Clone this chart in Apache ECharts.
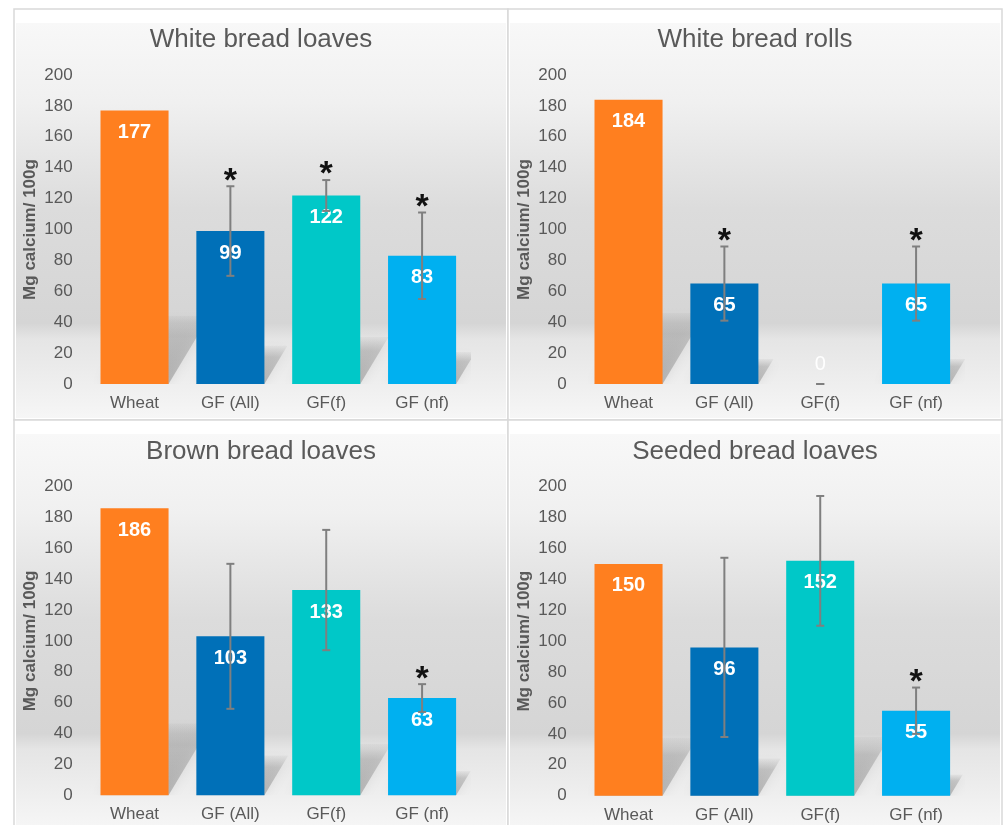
<!DOCTYPE html>
<html>
<head>
<meta charset="utf-8">
<title>Calcium content of bread</title>
<script src="https://cdn.jsdelivr.net/npm/echarts@6/dist/echarts.min.js"></script>
<style>
  html, body { margin: 0; padding: 0; background: #ffffff; }
  #chart { width: 1003px; height: 825px; }
</style>
</head>
<body>
<div id="chart"></div>
<script>
// ---- data ---------------------------------------------------------------
const categories = ['Wheat', 'GF (All)', 'GF(f)', 'GF (nf)'];
const panelTitles = ['White bread loaves', 'White bread rolls', 'Brown bread loaves', 'Seeded bread loaves'];
const yAxisName = 'Mg calcium/ 100g';
const yMin = 0, yMax = 200, yStep = 20;

// mean calcium (mg / 100 g)
const whiteLoavesMean  = [177, 99, 122, 83];
const whiteRollsMean   = [184, 65, 0, 65];
const brownLoavesMean  = [186, 103, 133, 63];
const seededLoavesMean = [150, 96, 152, 55];

// error-bar half widths (null = no error bar)
const whiteLoavesErr  = [null, 29, 10, 28];
const whiteRollsErr   = [null, 24, 0, 24];
const brownLoavesErr  = [null, 47, 39, 9];
const seededLoavesErr = [null, 58, 42, 15];

// significant difference from wheat (asterisk)
const whiteLoavesSig  = [false, true, true, true];
const whiteRollsSig   = [false, true, false, true];
const brownLoavesSig  = [false, false, false, true];
const seededLoavesSig = [false, false, false, true];

const panelMeans = [whiteLoavesMean, whiteRollsMean, brownLoavesMean, seededLoavesMean];
const panelErrs  = [whiteLoavesErr, whiteRollsErr, brownLoavesErr, seededLoavesErr];
const panelSigs  = [whiteLoavesSig, whiteRollsSig, brownLoavesSig, seededLoavesSig];

// ---- styling / layout ---------------------------------------------------
const barColors = ['#FF7F1F', '#0070B8', '#00C8C8', '#00B0F0'];
const FONT = "'Liberation Sans', Arial, Helvetica, sans-serif";
const TEXT = '#595959';
const BAR_FRACTION = 0.71;

const frames = [
  { x: 14,  y: 9,   w: 494, h: 411 },
  { x: 508, y: 9,   w: 494, h: 411 },
  { x: 14,  y: 420, w: 494, h: 410 },
  { x: 508, y: 420, w: 494, h: 410 }
];
const grids = [
  { left: 86.6,  top: 75,    width: 383.4, height: 309 },
  { left: 580.6, top: 75,    width: 383.4, height: 309 },
  { left: 86.6,  top: 486.7, width: 383.4, height: 308.5 },
  { left: 580.6, top: 486.7, width: 383.4, height: 309 }
];
const titleY = [39, 39, 451, 451];

const chart = echarts.init(document.getElementById('chart'), null, { renderer: 'canvas' });

// panel backgrounds, borders and titles
const graphics = [];
frames.forEach((f, i) => {
  graphics.push({
    type: 'rect', z: 0,
    shape: { x: f.x, y: f.y, width: f.w, height: f.h },
    style: { fill: '#ffffff', stroke: '#d9d9d9', lineWidth: 1.5 }
  });
  graphics.push({
    type: 'rect', z: 0, silent: true,
    shape: { x: f.x + 2, y: f.y + 14, width: f.w - 4, height: f.h - 16 },
    style: {
      fill: new echarts.graphic.LinearGradient(0, 0, 0, 1, [
        { offset: 0.00, color: '#f8f8f8' },
        { offset: 0.20, color: '#f0f0f0' },
        { offset: 0.47, color: '#dcdcdc' },
        { offset: 0.76, color: '#d5d5d5' },
        { offset: 0.80, color: '#e5e5e5' },
        { offset: 0.92, color: '#efefef' },
        { offset: 1.00, color: '#f6f6f6' }
      ])
    }
  });
  graphics.push({
    type: 'text', z: 10, silent: true,
    x: f.x + f.w / 2, y: titleY[i] + 1,
    style: {
      text: panelTitles[i], align: 'center', verticalAlign: 'middle',
      font: '26px ' + FONT, fill: TEXT
    }
  });
});

// soft floor shadow cast behind each bar
function renderShadow(params, api) {
  const k = api.value(0), v = api.value(1);
  if (!v) return null;
  const base = api.coord([k, 0]);
  const top = api.coord([k, v]);
  const w = api.size([1, 0])[0] * BAR_FRACTION;
  const h = base[1] - top[1];
  const x0 = base[0] - w / 2, x1 = base[0] + w / 2, y0 = base[1];
  const dx = h * 0.15, dy = h * 0.25;
  return {
    type: 'polygon',
    shape: { points: [[x0, y0], [x1, y0], [x1 + dx, y0 - dy], [x0 + dx, y0 - dy]] },
    style: {
      fill: new echarts.graphic.LinearGradient(0, 0, 0, 1, [
        { offset: 0, color: 'rgba(110,110,110,0.05)' },
        { offset: 0.3, color: 'rgba(110,110,110,0.28)' },
        { offset: 1, color: 'rgba(100,100,100,0.38)' }
      ]),
      shadowBlur: 12, shadowColor: 'rgba(100,100,100,0.35)'
    }
  };
}

// error bars with caps, plus asterisk for significance
function renderError(params, api) {
  const k = api.value(0), lo = api.value(1), hi = api.value(2), sig = api.value(3);
  const pLo = api.coord([k, lo]);
  const pHi = api.coord([k, hi]);
  const cap = 4;
  const line = { stroke: '#7f7f7f', lineWidth: 2 };
  const children = [
    { type: 'line', shape: { x1: pHi[0], y1: pHi[1], x2: pLo[0], y2: pLo[1] }, style: line },
    { type: 'line', shape: { x1: pHi[0] - cap, y1: pHi[1], x2: pHi[0] + cap, y2: pHi[1] }, style: line },
    { type: 'line', shape: { x1: pLo[0] - cap, y1: pLo[1], x2: pLo[0] + cap, y2: pLo[1] }, style: line }
  ];
  if (sig) {
    children.push({
      type: 'text', x: pHi[0], y: pHi[1] - 5,
      style: {
        text: '*', align: 'center', verticalAlign: 'middle',
        font: 'bold 34px ' + FONT, fill: '#111111'
      }
    });
  }
  return { type: 'group', children };
}

const xAxes = [], yAxes = [], series = [];
grids.forEach((g, i) => {
  xAxes.push({
    type: 'category', gridIndex: i, data: categories,
    axisLine: { show: false }, axisTick: { show: false },
    axisLabel: { color: TEXT, fontSize: 17, fontFamily: FONT, margin: 11 }
  });
  yAxes.push({
    type: 'value', gridIndex: i, min: yMin, max: yMax, interval: yStep,
    axisLine: { show: false }, axisTick: { show: false }, splitLine: { show: false },
    axisLabel: { color: TEXT, fontSize: 17, fontFamily: FONT, margin: 14 },
    name: yAxisName, nameLocation: 'middle', nameGap: 48, nameRotate: 90,
    nameTextStyle: { color: TEXT, fontSize: 17, fontWeight: 'bold', fontFamily: FONT }
  });

  const means = panelMeans[i], errs = panelErrs[i], sigs = panelSigs[i];

  series.push({
    type: 'custom', name: 'shadow' + i, xAxisIndex: i, yAxisIndex: i, z: 1,
    clip: true, silent: true,
    renderItem: renderShadow,
    data: means.map((v, k) => [k, v])
  });

  series.push({
    type: 'bar', name: panelTitles[i], xAxisIndex: i, yAxisIndex: i, z: 2,
    barWidth: (BAR_FRACTION * 100) + '%',
    data: means.map((v, k) => {
      const item = { value: v, itemStyle: { color: barColors[k] } };
      if (v === 0) {
        item.label = { position: 'top', distance: 10, fontWeight: 'normal', color: 'rgba(255,255,255,0.95)' };
      }
      return item;
    }),
    label: {
      show: true, position: 'insideTop', distance: 12,
      color: '#ffffff', fontSize: 20, fontWeight: 'bold', fontFamily: FONT
    }
  });

  series.push({
    type: 'custom', name: 'error' + i, xAxisIndex: i, yAxisIndex: i, z: 3,
    silent: true,
    renderItem: renderError,
    data: categories
      .map((c, k) => errs[k] == null ? null : [k, means[k] - errs[k], means[k] + errs[k], sigs[k] ? 1 : 0])
      .filter(Boolean)
  });
});

chart.setOption({
  animation: false,
  backgroundColor: '#ffffff',
  graphic: { elements: graphics },
  grid: grids.map(g => Object.assign({ containLabel: false }, g)),
  xAxis: xAxes,
  yAxis: yAxes,
  series: series
});
</script>
</body>
</html>
